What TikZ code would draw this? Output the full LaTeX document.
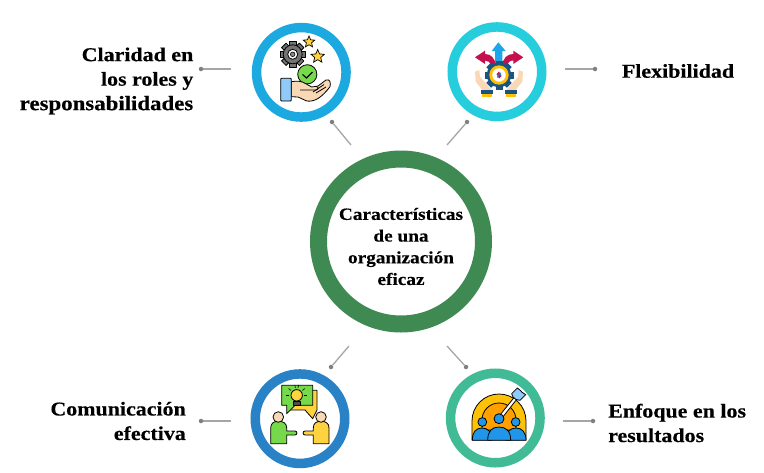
\documentclass[tikz,border=0pt]{standalone}
\usepackage{fontspec}
\setmainfont[FakeStretch=1.12,FakeBold=0.35]{Liberation Serif}
\usetikzlibrary{shapes.geometric}
\definecolor{rblue}{HTML}{1BA9E0}
\definecolor{rcyan}{HTML}{26CDDC}
\definecolor{rnavy}{HTML}{2A82C6}
\definecolor{rteal}{HTML}{41BA96}
\definecolor{rgreen}{HTML}{3F8A52}
\definecolor{conn}{HTML}{A6A6A6}
\definecolor{dotc}{HTML}{7F7F7F}
\definecolor{igreen}{HTML}{76D94A}
\definecolor{iyel}{HTML}{FFD23F}
\definecolor{iskin}{HTML}{F9D9B5}
\definecolor{iblue}{HTML}{2196E8}
\definecolor{icrim}{HTML}{C4104F}
\definecolor{igear}{HTML}{1C5480}
\definecolor{iorange}{HTML}{FFA000}
\definecolor{igold}{HTML}{FFC107}
\definecolor{icuff}{HTML}{90CAF9}
\tikzset{
  x=1pt,y=-1pt,
  ring/.style={circle,line width=9.5pt,minimum size=89.5pt,inner sep=0pt,fill=white},
  bigring/.style={circle,draw=rgreen,line width=17pt,minimum size=165pt,inner sep=0pt,fill=white},
  lbl/.style={font=\bfseries\fontsize{19.6}{24.5}\selectfont,inner sep=0pt},
  ctr/.style={font=\bfseries\fontsize{17.2}{21.7}\selectfont,align=center,inner sep=0pt},
  dotend/.style={circle,fill=dotc,inner sep=0pt,minimum size=4.5pt},
  conline/.style={draw=conn,line width=1.3pt},
  ink/.style={draw=black,line width=.8pt,line join=round},
  ystar/.style={star,star points=5,star point ratio=2.2,fill=iyel,draw=black,line width=.7pt,inner sep=0pt},
}
\begin{document}
\begin{tikzpicture}
\useasboundingbox (0,0) rectangle (764,472);
\fill[white] (0,0) rectangle (764,472);
% rings
\node[ring,draw=rblue] (r1) at (301.3,72.3) {};
\node[ring,draw=rcyan] (r2) at (497,71.7) {};
\node[ring,draw=rnavy] (r3) at (300,418.7) {};
\node[ring,draw=rteal] (r4) at (495.3,418) {};
\node[bigring] (c) at (401,241.5) {};
\node[ctr] (ctext) at (401,246.5) {Características\\de una\\organización\\eficaz};
% labels
\node[lbl,anchor=east,align=right] (l1) at (193.5,81) {Claridad en\\los roles y\\{\fontsize{20.4}{24.5}\selectfont responsabilidades}};
\node[lbl,align=center] (l2) at (678,71) {Flexibilidad};
\node[lbl,anchor=east,align=right] (l3) at (186,421) {Comunicación\\efectiva};
\node[lbl,anchor=west,align=left] (l4) at (608,423) {Enfoque en los\\resultados};
% connectors
\foreach \n/\ax/\ay/\bx/\by in {a/231/69/201/69,b/565/69/595/69,c/231/421/201/421,d/563/421/593/421,e/351/145/332/122,f/447/145/467/122,g/349/346/331/367,h/447/346/466/367}{
  \coordinate (s\n) at (\ax,\ay);
  \node[dotend] (t\n) at (\bx,\by) {};
  \draw[conline] (s\n) -- (t\n);
}
% icon 1
\foreach \a in {0,45,...,315}
  \draw[ink,fill=black!55,rotate around={\a:(292.7,54.3)}] (289.5,41.7) rectangle (295.9,48);
\fill[black!55,draw=black,line width=.8pt] (292.7,54.3) circle (9.5);
\fill[white,draw=black,line width=.8pt] (292.7,54.3) circle (5);
\fill[black!45,draw=black,line width=.6pt] (292.7,54.3) circle (2.3);
\node[ystar,minimum size=12pt] (st1) at (309,42) {};
\node[ystar,minimum size=14pt] (st2) at (317.7,56.5) {};
\fill[igreen,draw=black,line width=.8pt] (307.3,74.3) circle (9.6);
\draw[black,line width=1.1pt] (302.5,74.5) -- (306.5,78) -- (312.5,72);
\draw[ink,fill=iskin] (291.3,81.7) .. controls (298,80.5) and (302,81.5) .. (305,83.3) -- (311.7,87) -- (318,86) -- (326,80) .. controls (330,78.5) and (331,83) .. (330,86.7) .. controls (326,92) and (322,96) .. (318.3,98.3) .. controls (314,101) and (310,101.5) .. (306.7,101) -- (298,97) -- (291.3,96.7) -- cycle;
\draw[ink] (300,90) -- (316,90) .. controls (319,89) and (319,87) .. (316,86.5);
\draw[ink] (313,92) -- (324,84.5) (316,93) -- (326,87);
\draw[ink,fill=icuff,rounded corners=.8pt] (280.7,78.3) rectangle (291.3,101);
% icon 2
\fill[iskin] (475,71.7) -- (479.3,70) -- (480,76.7) -- (491.7,90) -- (482.3,90) -- (475.7,81.7) -- cycle;
\fill[iskin] (523,71.7) -- (518.7,70) -- (518,76.7) -- (506.3,90) -- (515.7,90) -- (522.3,81.7) -- cycle;
\fill[iblue!85!cyan] (498.3,42.3) -- (505.7,51) -- (502.3,51) -- (502.3,66) -- (495,66) -- (495,51) -- (491.7,51) -- cycle;
\fill[icrim] (475,57.3) -- (485,50.7) -- (485,54) .. controls (491,54) and (495,58) .. (496,66) -- (491,66) .. controls (490,62) and (488,60.5) .. (485,60.5) -- (485,64) -- cycle;
\fill[icrim] (523.3,57.3) -- (513.3,50.7) -- (513.3,54) .. controls (507,54) and (503,58) .. (502,66) -- (507,66) .. controls (508,62) and (510,60.5) .. (513.3,60.5) -- (513.3,64) -- cycle;
\foreach \a in {0,45,...,315}
  \fill[igear,rotate around={\a:(499,75)}] (495.5,60.5) rectangle (502.5,66);
\fill[igear] (499,75) circle (12.3);
\fill[igold] (499,75) circle (9.7);
\fill[white] (499,75) circle (6.7);
\fill[icrim] (496.5,74) -- (499,71.5) -- (501.5,76) -- (499,78.5) -- cycle;
\fill[iblue] (497,74.5) rectangle (498.7,77.5) (499.5,72.5) rectangle (501.2,75);
\fill[igear] (481,90) rectangle (493.3,94.3);
\fill[igear] (505,90) rectangle (517,94.3);
\fill[igold] (481.7,94.3) rectangle (492.3,96.7);
\fill[igold] (505.7,94.3) rectangle (516.3,96.7);
% icon 3
\draw[ink,fill=iyel] (290,392) -- (290,390.3) -- (317,390.3) -- (317,410) -- (312.7,418.7) -- (305,410) -- (290,410) -- cycle;
\draw[ink,fill=igreen] (281.7,385.3) -- (312.7,385.3) -- (312.7,405.3) -- (295,405.3) -- (286.7,413.7) -- (286.7,405.3) -- (281.7,405.3) -- cycle;
\draw[ink,fill=iyel] (296.7,395.3) circle (5.7);
\draw[ink,fill=black!70] (293.3,401.3) rectangle (300,405.3);
\foreach \a in {0,40,80,100,140,180}
  \draw[black,line width=.6pt] (296.7,395.3) ++(\a+180:7.5) -- ++(\a+180:3);
\draw[ink,fill=igreen] (270.7,443.7) -- (270.7,428) .. controls (270.7,423) and (274,421.3) .. (278.5,421.3) .. controls (283,421.3) and (286.7,423) .. (286.7,428) -- (286.7,431) -- (295,431) .. controls (297.5,431) and (297.5,435) .. (295,435) -- (286.7,435) -- (286.7,443.7) -- cycle;
\draw[ink,fill=iskin] (278.3,417) circle (5.3);
\draw[ink,fill=iyel] (329,443.7) -- (329,428) .. controls (329,423) and (325.5,421.3) .. (321,421.3) .. controls (316.5,421.3) and (313.3,423) .. (313.3,428) -- (313.3,431) -- (305,431) .. controls (302.5,431) and (302.5,435) .. (305,435) -- (313.3,435) -- (313.3,443.7) -- cycle;
\draw[ink,fill=iskin] (321,417) circle (5.3);
% icon 4
\draw[ink,fill=igold] (472,440) -- (472,421) arc[start angle=180,end angle=360,radius=27] -- (526,440) -- cycle;
\draw[ink,fill=iorange] (482,430) -- (482,420) arc[start angle=180,end angle=360,radius=17] -- (516,430) -- cycle;
\draw[ink,fill=white] (498,417.5) -- (514.5,397) -- (517,399) -- (500.5,420) -- cycle;
\draw[ink,fill=icuff] (511.7,393.7) -- (517.3,388) -- (520.5,390.5) -- (521.7,392) -- (525.7,394.7) -- (520,400.3) -- (516,399.5) -- (513,397) -- cycle;
\draw[ink,fill=iblue] (482.3,422) circle (4.4);
\draw[ink,fill=iblue] (515.7,422) circle (4.4);
\draw[ink,fill=iblue] (472.3,440.3) .. controls (472.3,432) and (476,428) .. (482,428) .. controls (488,428) and (492,432) .. (492,440.3) -- cycle;
\draw[ink,fill=iblue] (506,440.3) .. controls (506,432) and (510,428) .. (516,428) .. controls (522,428) and (526,432) .. (526,440.3) -- cycle;
\draw[ink,fill=iblue] (499,418.7) circle (5);
\draw[ink,fill=iblue] (487.7,440.3) .. controls (487.7,431) and (492,427) .. (499,427) .. controls (506,427) and (510.7,431) .. (510.7,440.3) -- cycle;
\end{tikzpicture}
\end{document}
